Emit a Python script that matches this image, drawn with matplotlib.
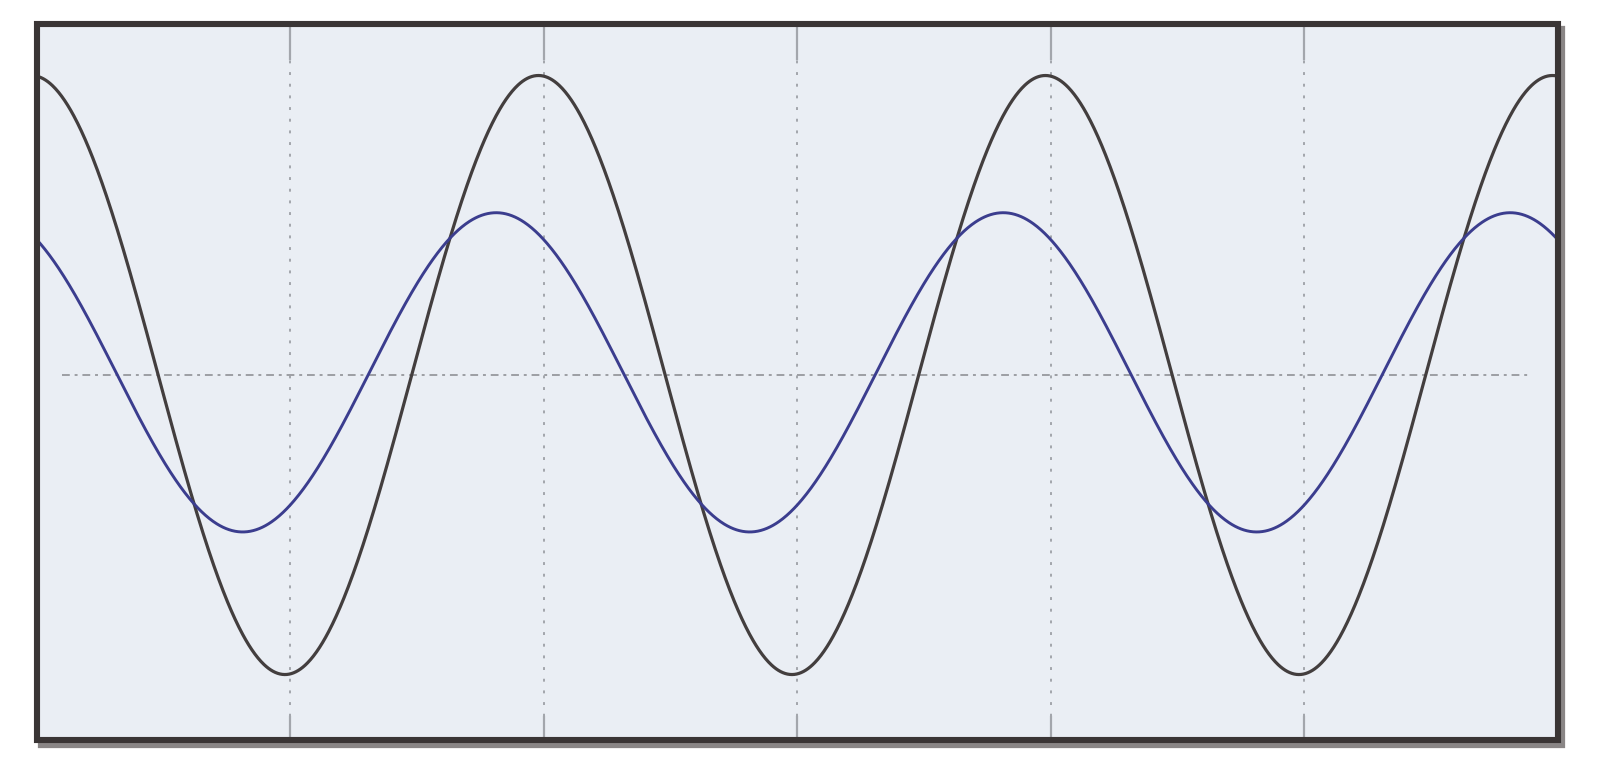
import matplotlib
matplotlib.use("Agg")
import matplotlib.pyplot as plt
import numpy as np
from matplotlib.patches import Rectangle

# screen is 6 horizontal divisions wide, two traces with the same period
x_divs = 6
x_grid = [1, 2, 3, 4, 5]

# trace parameters (in divisions / degrees)
period_div = 2.0
black_amp = 3.34
black_peak_div = 1.98
blue_amp = 1.78
blue_lead_deg = 30.0
blue_offset = 0.03

# vertical range of the screen in divisions (0 is the centre line)
y_low, y_high = -4.07, 3.92

fig = plt.figure(figsize=(16, 7.63), dpi=100)

# axes placed on the frame centre lines (pixels of a 1600x763 image)
W, H = 1600, 763
left, right, top, bottom = 36.5, 1557.5, 23.5, 740
ax = fig.add_axes([left / W, 1 - bottom / H, (right - left) / W, (bottom - top) / H])

# drop shadow behind the frame, only the lower right part shows
shadow = Rectangle(((left + 4) / W, 1 - (bottom + 5) / H), (right - left) / W, (bottom - top) / H,
                   transform=fig.transFigure, facecolor="#8a8686", edgecolor="#8a8686",
                   linewidth=4.5, zorder=-1)
fig.patches.append(shadow)

ax.set_facecolor("#eaeef4")
ax.set_xlim(0, x_divs)
ax.set_ylim(y_low, y_high)

x = np.linspace(0, x_divs, 2000)
w = 2 * np.pi / period_div
black = black_amp * np.cos(w * (x - black_peak_div))
blue = blue_offset + blue_amp * np.cos(w * (x - black_peak_div) + np.deg2rad(blue_lead_deg))

# grid: dotted verticals with solid stubs at the frame, dashed centre line
for g in x_grid:
    ax.plot([g, g], [y_low, y_high], color="#a3a6ac", lw=1.4, ls=(0, (1.5, 4.5)), zorder=1)
    ax.plot([g, g], [y_high - 0.4, y_high], color="#a3a6ac", lw=1.6, zorder=1)
    ax.plot([g, g], [y_low, y_low + 0.26], color="#a3a6ac", lw=1.6, zorder=1)
ax.plot([0.1, 5.9], [0, 0], color="#9c9ea3", lw=1.4, ls=(0, (4, 2.5, 1.5, 2.5)), zorder=1)

ax.plot(x, black, color="#433e3e", lw=2.3, zorder=3)
ax.plot(x, blue, color="#3b3d8e", lw=2.1, zorder=3)

ax.set_xticks([])
ax.set_yticks([])
for s in ax.spines.values():
    s.set_visible(False)

# frame as one closed rectangle so the corners join cleanly
frame = Rectangle((0, 0), 1, 1, transform=ax.transAxes, facecolor="none",
                  edgecolor="#3a3535", linewidth=4.4, joinstyle="miter",
                  clip_on=False, zorder=5)
ax.add_patch(frame)

fig.savefig("out.png", dpi=100, facecolor="white")
